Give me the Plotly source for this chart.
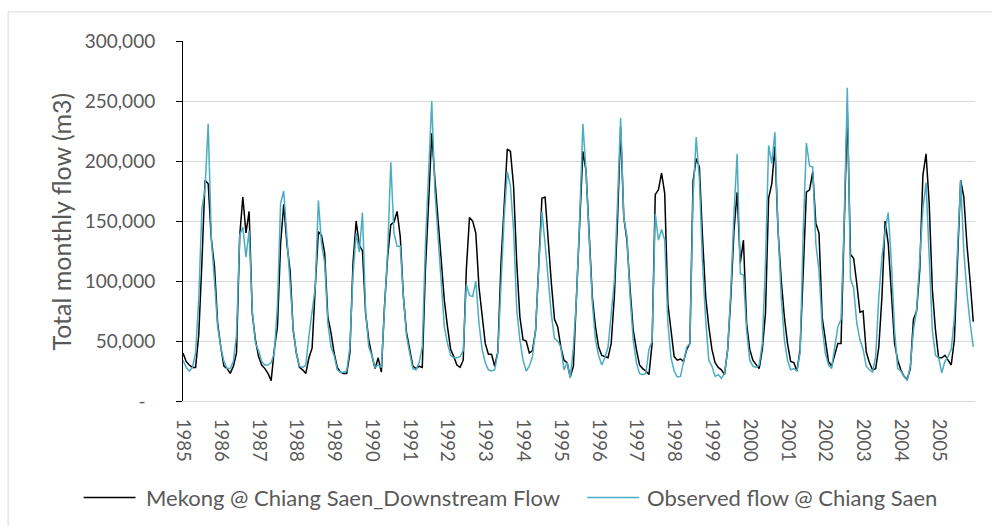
import plotly.graph_objects as go

# ---- data -------------------------------------------------------------
years = list(range(1985, 2006))
months = list(range(len(years) * 12))          # monthly category index, Jan 1985 .. Dec 2005
tick_positions = months[::12]
tick_labels = [str(y) for y in years]

series_names = ["Mekong @ Chiang Saen_Downstream Flow", "Observed flow @ Chiang Saen"]
series_colors = ["#000000", "#4BACC6"]

mekong_downstream = [
    40000, 33000, 30000, 28000, 28000, 55000, 115000, 184000, 181000, 135000, 112000, 65000,   # 1985
    45000, 29000, 27000, 23000, 29000, 40000, 137000, 170000, 140000, 158000, 73000, 51000,    # 1986
    37000, 30000, 27000, 23000, 17000, 43000, 62000, 131000, 164000, 131000, 109000, 59000,    # 1987
    40000, 28000, 26000, 23000, 36000, 44000, 95000, 141000, 138000, 123000, 70000, 57000,     # 1988
    40000, 28000, 24000, 23000, 23000, 40000, 115000, 150000, 130000, 125000, 73000, 51000,    # 1989
    38000, 27000, 36000, 24000, 79000, 120000, 147000, 149000, 158000, 137000, 87000, 57000,   # 1990
    43000, 29000, 27000, 29000, 28000, 110000, 165000, 223000, 185000, 150000, 120000, 84000,  # 1991
    62000, 43000, 37000, 30000, 28000, 34000, 110000, 153000, 150000, 140000, 95000, 70000,    # 1992
    48000, 39000, 39000, 29000, 41000, 115000, 165000, 210000, 208000, 179000, 115000, 70000,  # 1993
    51000, 50000, 40000, 42000, 59000, 115000, 169000, 170000, 131000, 98000, 68000, 62000,    # 1994
    45000, 34000, 32000, 20000, 29000, 87000, 142000, 208000, 192000, 142000, 87000, 62000,    # 1995
    45000, 38000, 37000, 36000, 48000, 87000, 150000, 228000, 153000, 134000, 93000, 59000,    # 1996
    43000, 30000, 27000, 25000, 22000, 48000, 172000, 176000, 190000, 173000, 81000, 59000,    # 1997
    37000, 34000, 35000, 33000, 43000, 48000, 183000, 202000, 195000, 137000, 87000, 62000,    # 1998
    43000, 32000, 28000, 26000, 22000, 43000, 87000, 142000, 174000, 115000, 134000, 65000,    # 1999
    43000, 34000, 30000, 27000, 43000, 73000, 169000, 181000, 212000, 142000, 101000, 70000,   # 2000
    48000, 33000, 32000, 25000, 43000, 115000, 174000, 176000, 191000, 148000, 140000, 70000,  # 2001
    50000, 33000, 29000, 38000, 48000, 48000, 150000, 242000, 122000, 119000, 98000, 74000,    # 2002
    75000, 41000, 32000, 26000, 27000, 45000, 87000, 150000, 131000, 87000, 48000, 34000,      # 2003
    26000, 20500, 18000, 27000, 68000, 75000, 109000, 188000, 206000, 165000, 93000, 59000,    # 2004
    36000, 36000, 38000, 34000, 30000, 51000, 118000, 184000, 170000, 130000, 100000, 66000,   # 2005
]

observed = [
    34000, 28000, 25000, 28000, 40000, 85000, 160000, 177000, 231000, 135000, 100000, 62000,   # 1985
    45000, 33000, 27000, 27000, 33000, 55000, 138000, 145000, 120000, 142000, 75000, 48000,    # 1986
    42000, 33000, 30000, 30000, 32000, 40000, 80000, 165000, 175000, 135000, 100000, 60000,    # 1987
    40000, 29000, 28000, 30000, 54000, 73000, 95000, 167000, 131000, 115000, 65000, 45000,     # 1988
    38000, 26000, 24000, 24000, 25000, 45000, 105000, 140000, 124000, 157000, 75000, 45000,    # 1989
    38000, 28000, 30000, 28000, 72000, 125000, 199000, 140000, 129000, 129000, 87000, 54000,   # 1990
    40000, 27000, 26000, 32000, 45000, 130000, 190000, 250000, 175000, 135000, 100000, 62000,  # 1991
    48000, 38000, 36000, 36000, 37000, 42000, 97000, 88000, 87000, 100000, 65000, 43000,       # 1992
    32000, 26000, 25000, 26000, 40000, 100000, 153000, 191000, 179000, 142000, 76000, 51000,   # 1993
    34000, 25000, 29000, 37000, 60000, 112000, 158000, 131000, 101000, 72000, 52000, 50000,    # 1994
    45000, 26000, 32000, 19000, 45000, 87000, 153000, 231000, 192000, 134000, 82000, 51000,    # 1995
    38000, 30000, 36000, 45000, 70000, 100000, 165000, 236000, 153000, 137000, 87000, 51000,   # 1996
    32000, 23000, 22000, 23000, 43000, 50000, 156000, 134000, 143000, 134000, 65000, 36000,    # 1997
    25000, 20000, 20500, 32000, 45000, 48000, 170000, 220000, 185000, 115000, 68000, 34000,    # 1998
    29000, 20500, 22000, 19000, 23000, 43000, 93000, 156000, 206000, 106000, 105000, 59000,    # 1999
    34000, 29000, 28000, 30000, 48000, 115000, 213000, 198000, 224000, 142000, 87000, 51000,   # 2000
    34000, 26000, 27000, 25000, 40000, 142000, 215000, 196000, 195000, 131000, 109000, 62000,  # 2001
    40000, 30000, 27000, 45000, 62000, 68000, 150000, 261000, 102000, 94000, 65000, 51000,     # 2002
    43000, 29000, 26000, 24000, 37000, 87000, 120000, 142000, 157000, 115000, 59000, 27000,    # 2003
    25000, 20500, 17000, 29000, 59000, 76000, 120000, 160000, 182000, 115000, 59000, 38000,    # 2004
    36000, 23500, 33000, 37000, 43000, 70000, 125000, 184000, 125000, 90000, 65000, 45000,     # 2005
]

y_ticks = [0, 50000, 100000, 150000, 200000, 250000, 300000]
y_tick_labels = ["-\u00a0\u00a0", "50,000", "100,000", "150,000", "200,000", "250,000", "300,000"]

# ---- figure -----------------------------------------------------------
TEXT = "#595959"
GRID = "#D9D9D9"
FONT = "Lato"

fig = go.Figure()
for name, color, values in zip(series_names, series_colors, [mekong_downstream, observed]):
    fig.add_trace(go.Scatter(x=months, y=values, mode="lines", name=name,
                             line=dict(color=color, width=1.5)))

L, R, T, B = 182.5, 975.0, 40.7, 401.3
W, H = 992, 526
pw, ph = R - L, B - T

def px_x(p):
    return (p - L) / pw

def px_y(p):
    return (B - p) / ph

# manual legend (line sample + label) placed below the axis, like the original
legend_items = [(83, 135, 143), (587, 639, 645)]   # line start, line end, text start (px)
legend_y = 498
shapes = [dict(type="rect", xref="paper", yref="paper",
               x0=px_x(7.5), x1=px_x(1012), y0=px_y(620), y1=px_y(11.5),
               line=dict(color=GRID, width=1), fillcolor="rgba(0,0,0,0)",
               layer="below")]
annotations = [dict(text="Total monthly flow (m3)", textangle=-90,
                    xref="paper", yref="paper", x=px_x(60), y=px_y(222),
                    xanchor="center", yanchor="middle", showarrow=False,
                    font=dict(size=25, color=TEXT, family=FONT))]
for (x0, x1, xt), name, color in zip(legend_items, series_names, series_colors):
    shapes.append(dict(type="line", xref="paper", yref="paper",
                       x0=px_x(x0), x1=px_x(x1), y0=px_y(legend_y), y1=px_y(legend_y),
                       line=dict(color=color, width=1.5)))
    annotations.append(dict(text=name, xref="paper", yref="paper",
                            x=px_x(xt), y=px_y(legend_y), xanchor="left", yanchor="middle",
                            showarrow=False, font=dict(size=22, color=TEXT, family=FONT)))

fig.update_layout(
    width=W, height=H,
    margin=dict(l=L, r=W - R, t=T, b=H - B, pad=0),
    paper_bgcolor="white", plot_bgcolor="white",
    font=dict(family=FONT, color=TEXT, size=18),
    showlegend=False,
    xaxis=dict(range=[0, 251.55], tickmode="array", tickvals=tick_positions,
               ticktext=tick_labels, tickangle=90, showgrid=False,
               showline=True, linecolor=GRID, linewidth=1, ticks="",
               zeroline=False, tickfont=dict(size=18.5, color=TEXT, family=FONT),
               ticklabelstandoff=13, fixedrange=True),
    yaxis=dict(range=[0, 300000], tickmode="array", tickvals=y_ticks,
               ticktext=y_tick_labels, showgrid=True, gridcolor=GRID, gridwidth=1,
               showline=True, linecolor="#000000", linewidth=1,
               ticks="outside", ticklen=6, tickcolor="#000000", tickwidth=1,
               zeroline=False, tickfont=dict(size=19, color=TEXT, family=FONT),
               ticklabelstandoff=17, fixedrange=True),
    annotations=annotations,
    shapes=shapes,
)

fig.write_html("out.html")
